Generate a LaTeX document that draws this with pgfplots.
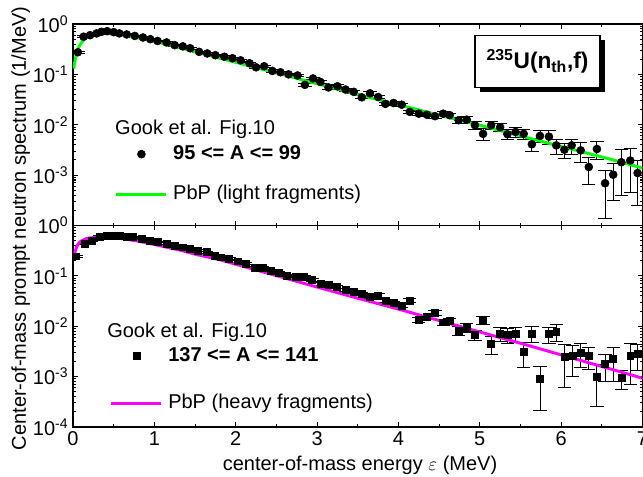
\documentclass[border=0pt]{standalone}
\usepackage{fontspec}
\setmainfont{Liberation Sans}
\usepackage{pgfplots}
\usepackage{pgfplotstable}
\pgfplotsset{compat=1.18}
\usetikzlibrary{shadows}
\newcommand\fs{\fontsize{15}{18}\selectfont}
\definecolor{lgreen}{RGB}{0,255,0}
\definecolor{hmag}{RGB}{255,0,255}

\pgfplotstableread{
x y e
0.06 0.275 0.011
0.13 0.56 0.02
0.21 0.60 0.02
0.29 0.65 0.02
0.35 0.70 0.02
0.42 0.72 0.02
0.50 0.69 0.02
0.57 0.65 0.02
0.66 0.62 0.02
0.76 0.58 0.02
0.86 0.54 0.02
0.95 0.50 0.02
1.04 0.46 0.018
1.15 0.43 0.017
1.25 0.38 0.015
1.35 0.36 0.014
1.44 0.33 0.013
1.55 0.28 0.011
1.65 0.26 0.010
1.75 0.24 0.010
1.86 0.224 0.009
1.96 0.209 0.008
2.06 0.19 0.009
2.17 0.166 0.008
2.25 0.138 0.007
2.35 0.145 0.007
2.45 0.117 0.006
2.55 0.110 0.006
2.65 0.100 0.005
2.76 0.095 0.005
2.85 0.062 0.004
2.95 0.083 0.005
3.04 0.071 0.005
3.14 0.055 0.004
3.25 0.058 0.004
3.35 0.050 0.0035
3.45 0.045 0.0032
3.55 0.035 0.0025
3.65 0.042 0.003
3.75 0.0355 0.0025
3.84 0.026 0.002
3.94 0.027 0.002
4.04 0.025 0.002
4.14 0.018 0.0015
4.25 0.0166 0.0014
4.35 0.0158 0.0014
4.45 0.0148 0.0013
4.55 0.0166 0.0015
4.63 0.0155 0.0015
4.74 0.0123 0.0018
4.84 0.0126 0.0019
4.94 0.0098 0.0016
5.04 0.0066 0.0017
5.14 0.0098 0.0017
5.25 0.0089 0.0017
5.34 0.0065 0.0015
5.44 0.0072 0.0017
5.54 0.0066 0.0016
5.64 0.0041 0.0012
5.74 0.0060 0.0016
5.85 0.0058 0.0018
5.94 0.0039 0.0013
6.04 0.0032 0.0011
6.13 0.0039 0.0013
6.24 0.0031 0.0013
6.34 0.00145 0.0008
6.44 0.0033 0.0013
6.54 0.00069 0.00055
6.64 0.00102 0.0007
6.74 0.0018 0.0014
6.85 0.00195 0.0015
6.94 0.0011 0.00085
}\lightdata

\pgfplotstableread{
x y e
0.04 0.245 0.01
0.15 0.43 0.017
0.23 0.50 0.02
0.33 0.60 0.02
0.41 0.63 0.02
0.49 0.63 0.02
0.57 0.63 0.02
0.66 0.60 0.02
0.74 0.59 0.02
0.84 0.54 0.02
0.94 0.50 0.02
1.04 0.47 0.018
1.15 0.44 0.017
1.25 0.40 0.016
1.35 0.37 0.015
1.44 0.35 0.014
1.53 0.32 0.013
1.64 0.295 0.012
1.74 0.25 0.01
1.82 0.234 0.01
1.92 0.22 0.009
2.02 0.195 0.008
2.12 0.174 0.008
2.23 0.145 0.007
2.33 0.145 0.007
2.43 0.129 0.006
2.53 0.117 0.006
2.63 0.102 0.005
2.74 0.098 0.005
2.84 0.098 0.005
2.94 0.083 0.004
3.04 0.069 0.004
3.14 0.066 0.004
3.24 0.060 0.004
3.35 0.052 0.0035
3.45 0.048 0.0033
3.55 0.044 0.003
3.65 0.039 0.003
3.75 0.041 0.003
3.84 0.032 0.0025
3.94 0.029 0.0025
4.04 0.0257 0.0025
4.14 0.0324 0.003
4.25 0.0135 0.0015
4.35 0.0151 0.0016
4.45 0.0182 0.002
4.55 0.0120 0.0015
4.63 0.0126 0.0016
4.74 0.0083 0.0016
4.84 0.0095 0.0018
4.94 0.0068 0.0015
5.04 0.0135 0.0025
5.14 0.0045 0.0017
5.25 0.0071 0.0022
5.34 0.0068 0.0022
5.44 0.0071 0.0023
5.54 0.0031 0.0016
5.64 0.0072 0.0025
5.74 0.00091 0.0007
5.85 0.0071 0.0025
5.94 0.0079 0.0028
6.04 0.0025 0.0019
6.14 0.0026 0.0016
6.24 0.0030 0.0015
6.34 0.0026 0.0012
6.44 0.0010 0.00075
6.54 0.0018 0.0010
6.64 0.0023 0.0015
6.74 0.00095 0.0004
6.85 0.0026 0.0019
6.94 0.0028 0.0015
}\heavydata

\pgfplotstableread{
x y
0.01 0.13
0.02 0.17
0.04 0.25
0.06 0.31
0.08 0.37
0.10 0.42
0.15 0.52
0.20 0.58
0.25 0.61
0.30 0.63
0.40 0.65
0.50 0.64
0.60 0.61
0.70 0.57
0.80 0.53
1.00 0.45
1.20 0.38
1.50 0.28
1.80 0.21
2.00 0.174
2.50 0.107
3.00 0.065
3.50 0.040
4.00 0.025
4.50 0.0155
5.00 0.0098
5.50 0.0060
6.00 0.0037
6.50 0.0023
7.00 0.00138
}\lightpbp

\pgfplotstableread{
x y
0.01 0.235
0.02 0.28
0.04 0.36
0.06 0.42
0.08 0.46
0.10 0.49
0.15 0.54
0.20 0.565
0.30 0.585
0.40 0.59
0.50 0.575
0.60 0.55
0.80 0.49
1.00 0.42
1.33 0.32
1.50 0.27
1.80 0.21
2.00 0.17
2.50 0.101
3.00 0.060
3.50 0.036
4.00 0.0219
4.50 0.0130
5.00 0.0077
5.50 0.0046
6.00 0.0027
6.50 0.00159
7.00 0.00093
}\heavypbp

\begin{document}
\begin{tikzpicture}
% top panel
\begin{axis}[at={(0pt,151.125pt)}, anchor=south west,
    scale only axis, width=427.125pt, height=151.125pt,
    xmin=0, xmax=7, ymin=1e-4, ymax=1, ymode=log,
    xtick={0,1,2,3,4,5,6,7}, minor x tick num=1,
    ytick={1e-4,1e-3,1e-2,1e-1,1},
    tick align=inside, major tick length=3.5pt, minor tick length=2pt,
    axis line style={line width=0.9pt},
    every tick/.style={black, line width=0.8pt},
    tick label style={font=\fs},
    legend cell align=left,
    legend image code/.code={\draw[mark repeat=2,mark phase=2,#1] plot coordinates {(0pt,0pt) (18.75pt,0pt) (37.5pt,0pt)};},
  xticklabels={},
  yticklabels={,10\textsuperscript{-3},10\textsuperscript{-2},10\textsuperscript{-1},10\textsuperscript{0}},
  legend style={draw=none, fill=none, inner sep=0pt, outer sep=0pt, column sep=4pt, font=\fs,
    nodes={inner sep=0pt, text height=11pt, text depth=3.5pt},
    at={(0.0737,0.402)}, anchor=north west, row sep=15.5pt}]
\addplot[only marks, mark=*, mark size=3pt, black,
    error bars/.cd, y dir=both, y explicit, error mark=|,
    error bar style={line width=0.7pt, black},
    error mark options={black, mark size=5pt, line width=0.7pt}]
  table[x=x, y=y, y error=e] {\lightdata};
\addlegendentry{\textbf{95 <= A <= 99}}
\addplot[lgreen, line width=2.2pt, no markers] table[x=x, y=y] {\lightpbp};
\addlegendentry{PbP (light fragments)}
\node[anchor=base west, font=\fs, inner sep=0pt] at (rel axis cs:0.0737,0.4527) {Gook et al. Fig.10};
\node[draw=black, line width=0.8pt, fill=white, minimum width=93.75pt, minimum height=39pt,
  drop shadow={shadow xshift=4pt, shadow yshift=-4pt, fill=black, opacity=1},
  font=\fontsize{17}{20}\selectfont\bfseries] at (rel axis cs:0.8156,0.816)
  {\textsuperscript{235}U(n\textsubscript{th},f)};
\end{axis}
% bottom panel
\begin{axis}[at={(0pt,0pt)}, anchor=south west,
    scale only axis, width=427.125pt, height=151.125pt,
    xmin=0, xmax=7, ymin=1e-4, ymax=1, ymode=log,
    xtick={0,1,2,3,4,5,6,7}, minor x tick num=1,
    ytick={1e-4,1e-3,1e-2,1e-1,1},
    tick align=inside, major tick length=3.5pt, minor tick length=2pt,
    axis line style={line width=0.9pt},
    every tick/.style={black, line width=0.8pt},
    tick label style={font=\fs},
    legend cell align=left,
    legend image code/.code={\draw[mark repeat=2,mark phase=2,#1] plot coordinates {(0pt,0pt) (18.75pt,0pt) (37.5pt,0pt)};},
  xticklabels={0,1,2,3,4,5,6,7},
  yticklabels={10\textsuperscript{-4},10\textsuperscript{-3},10\textsuperscript{-2},10\textsuperscript{-1},10\textsuperscript{0}},
  legend style={draw=none, fill=none, inner sep=0pt, outer sep=0pt, column sep=4pt, font=\fs,
    nodes={inner sep=0pt, text height=11pt, text depth=3.5pt},
    at={(0.065,0.3995)}, anchor=north west, row sep=21pt}]
\addplot[only marks, mark=square*, mark size=2.6pt, black,
    error bars/.cd, y dir=both, y explicit, error mark=|,
    error bar style={line width=0.7pt, black},
    error mark options={black, mark size=5pt, line width=0.7pt}]
  table[x=x, y=y, y error=e] {\heavydata};
\addlegendentry{\textbf{137 <= A <= 141}}
\addplot[hmag, line width=2.2pt, no markers] table[x=x, y=y] {\heavypbp};
\addlegendentry{PbP (heavy fragments)}
\node[anchor=base west, font=\fs, inner sep=0pt] at (rel axis cs:0.0597,0.4455) {Gook et al. Fig.10};
\end{axis}
\node[rotate=90, anchor=base, font=\fs] at (-35.25pt,148.9pt) {Center-of-mass prompt neutron spectrum (1/MeV)};
\node[anchor=base, font=\fs] at (215.25pt,-32.8pt) {center-of-mass energy $\varepsilon$ (MeV)};
\pgfresetboundingbox
\useasboundingbox (-54.75pt,-37.5pt) rectangle (427.5pt,320.25pt);
\end{tikzpicture}
\end{document}
